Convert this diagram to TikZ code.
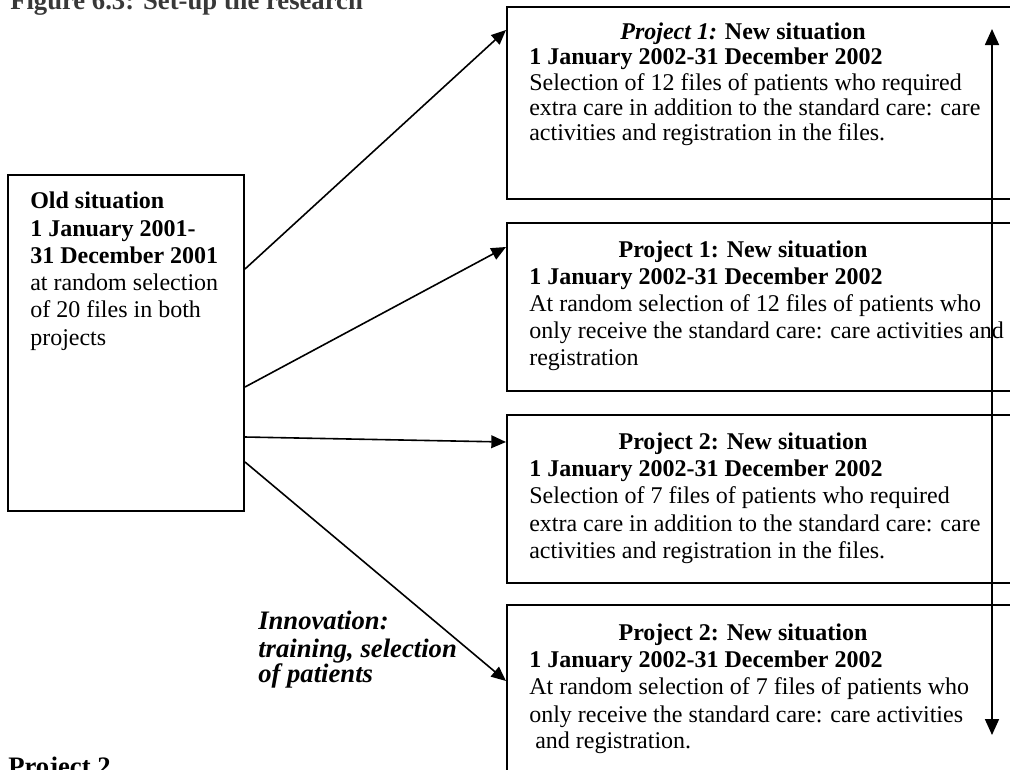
\documentclass[tikz,border=0pt]{standalone}
\usepackage{fontspec}
\setmainfont{Liberation Serif}
\usetikzlibrary{arrows.meta,calc,fit}
\tikzset{
  box/.style={draw=black, line width=1.5pt, inner sep=0pt},
  flow/.style={draw=black, line width=1.2pt, -{Triangle[length=11pt,width=9.5pt]}},
  span/.style={draw=black, line width=1.3pt, {Triangle[length=12pt,width=10.5pt]}-{Triangle[length=12pt,width=10.5pt]}},
  txt/.style={inner sep=0pt, anchor=base west, font=\fontsize{18}{20}\selectfont},
  head/.style={inner sep=0pt, anchor=base, font=\fontsize{18}{20}\selectfont\bfseries},
  big/.style={inner sep=0pt, anchor=base west, font=\fontsize{20}{22}\selectfont\bfseries}
}
\begin{document}
\begin{tikzpicture}[x=0.75pt,y=-0.75pt]
\useasboundingbox (0,0) rectangle (1010,769);
\clip (0,0) rectangle (1010,769);

% title and captions
\node[big, text=black!78] (title) at (10,9) {Figure 6.3: Set-up the research};
\node[big] (proj2) at (8,775) {Project 2};

% boxes
\node[box, fit={(8,175)(244,511)}] (old) {};
\node[box, fit={(507,7)(1040,199)}] (b1) {};
\node[box, fit={(507,223)(1040,391)}] (b2) {};
\node[box, fit={(507,415)(1040,583)}] (b3) {};
\node[box, fit={(507,605)(1040,795)}] (b4) {};

% old box text
\node[txt, font=\fontsize{18}{20}\selectfont\bfseries] (o1) at (30,208) {Old situation};
\node[txt, font=\fontsize{18}{20}\selectfont\bfseries] (o2) at (30,236) {1 January 2001-};
\node[txt, font=\fontsize{18}{20}\selectfont\bfseries] (o3) at (30,263) {31 December 2001};
\node[txt] (o4) at (30,290) {at random selection};
\node[txt] (o5) at (30,317) {of 20 files in both};
\node[txt] (o6) at (30,345) {projects};

% box 1
\node[head] (a1) at (743,39) {\textit{Project 1:} New situation};
\node[txt, font=\fontsize{18}{20}\selectfont\bfseries] (a2) at (529,64) {1 January 2002-31 December 2002};
\node[txt] (a3) at (529,90) {Selection of 12 files of patients who required};
\node[txt] (a4) at (529,115) {extra care in addition to the standard care: care};
\node[txt] (a5) at (529,140) {activities and registration in the files.};

% box 2
\node[head] (c1) at (743,257) {Project 1: New situation};
\node[txt, font=\fontsize{18}{20}\selectfont\bfseries] (c2) at (529,284) {1 January 2002-31 December 2002};
\node[txt] (c3) at (529,311) {At random selection of 12 files of patients who};
\node[txt] (c4) at (529,338) {only receive the standard care: care activities and};
\node[txt] (c5) at (529,365) {registration};

% box 3
\node[head] (d1) at (743,449) {Project 2: New situation};
\node[txt, font=\fontsize{18}{20}\selectfont\bfseries] (d2) at (529,476) {1 January 2002-31 December 2002};
\node[txt] (d3) at (529,503) {Selection of 7 files of patients who required};
\node[txt] (d4) at (529,531) {extra care in addition to the standard care: care};
\node[txt] (d5) at (529,558) {activities and registration in the files.};

% box 4
\node[head] (e1) at (743,640) {Project 2: New situation};
\node[txt, font=\fontsize{18}{20}\selectfont\bfseries] (e2) at (529,667) {1 January 2002-31 December 2002};
\node[txt] (e3) at (529,694) {At random selection of 7 files of patients who};
\node[txt] (e4) at (529,722) {only receive the standard care: care activities};
\node[txt] (e5) at (529,748) {\hspace{0.25em}and registration.};

% innovation label
\node[big, font=\fontsize{20}{22}\selectfont\bfseries\itshape] (i1) at (258,629) {Innovation:};
\node[big, font=\fontsize{20}{22}\selectfont\bfseries\itshape] (i2) at (258,657) {training, selection};
\node[big, font=\fontsize{20}{22}\selectfont\bfseries\itshape] (i3) at (258,682) {of patients};

% connectors
\draw[flow] ($(old.north east)+(0,95)$) -- ($(b1.north west)+(0,24)$);
\draw[flow] ($(old.north east)+(0,213)$) -- ($(b2.north west)+(0,25)$);
\draw[flow] ($(old.north east)+(0,263)$) -- ($(b3.north west)+(0,28)$);
\draw[flow] ($(old.north east)+(0,288)$) -- ($(b4.north west)+(0,77)$);

% time span arrow
\coordinate (st) at (992,29);
\coordinate (en) at (992,735);
\draw[span] (st) -- (en);
\end{tikzpicture}
\end{document}
